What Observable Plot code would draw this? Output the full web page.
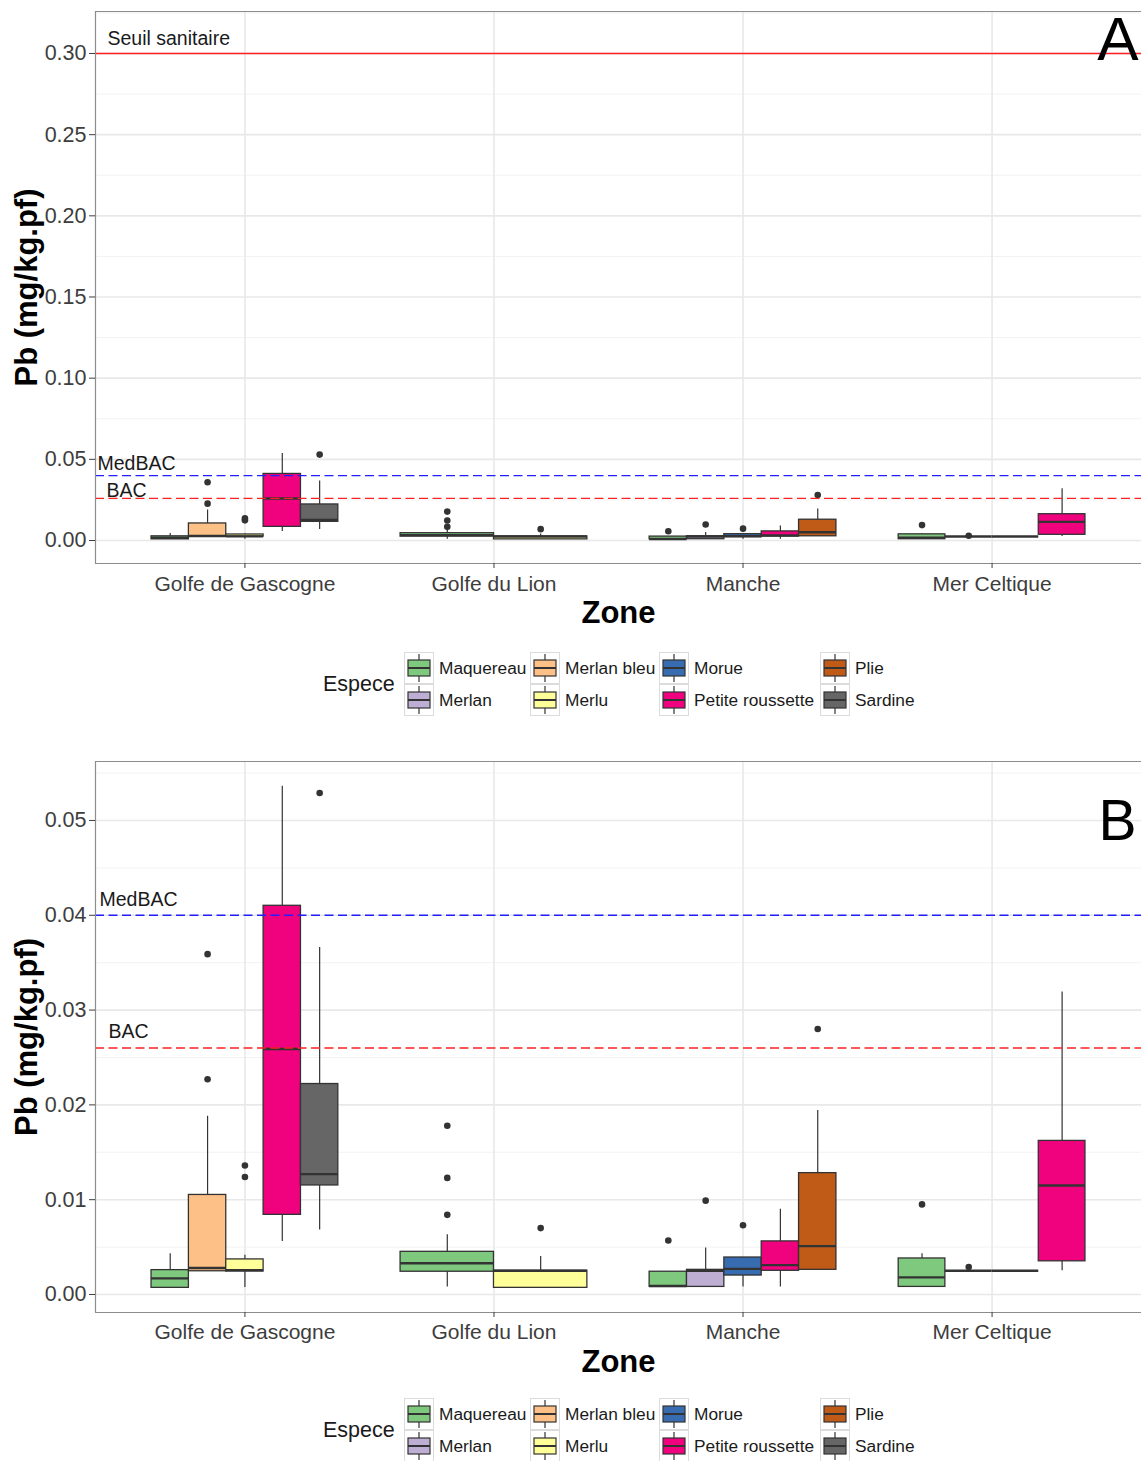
<!DOCTYPE html>
<html>
<head>
<meta charset="utf-8">
<script src="https://cdn.jsdelivr.net/npm/d3@7"></script>
<script src="https://cdn.jsdelivr.net/npm/@observablehq/plot@0.6"></script>
<style>
  html, body { margin: 0; padding: 0; background: #fff; overflow: hidden; }
  body { width: 1141px; font-family: "Liberation Sans", Arial, sans-serif; }
  svg { display: block; }
  .legend { position: relative; width: 1141px; }
  .legend .inner { position: absolute; left: 323px; display: flex; align-items: center; }
  .legend .ltitle { font-size: 21.5px; color: #1a1a1a; width: 81px; }
  .legend .lgrid { display: grid; grid-template-rows: 32px 32px; grid-template-columns: 126px 129px 161px auto; grid-auto-flow: column; }
  .legend .item { display: flex; align-items: center; }
  .legend .item span { font-size: 17.3px; color: #1a1a1a; margin-left: 5px; white-space: nowrap; }
</style>
</head>
<body>
<div id="chart"></div>
<script>
// ---------------- data ----------------
const zones = ["Golfe de Gascogne", "Golfe du Lion", "Manche", "Mer Celtique"];
const species = ["Maquereau", "Merlan", "Merlan bleu", "Merlu", "Morue", "Petite roussette", "Plie", "Sardine"];
const speciesColors = ["#7FC97F", "#BEAED4", "#FDC086", "#FFFF99", "#386CB0", "#F0027F", "#BF5B17", "#666666"];

const boxZone = [
  "Golfe de Gascogne", "Golfe de Gascogne", "Golfe de Gascogne", "Golfe de Gascogne", "Golfe de Gascogne",
  "Golfe du Lion", "Golfe du Lion",
  "Manche", "Manche", "Manche", "Manche", "Manche",
  "Mer Celtique", "Mer Celtique", "Mer Celtique", "Mer Celtique"
];
const boxSpecies = [
  "Maquereau", "Merlan bleu", "Merlu", "Petite roussette", "Sardine",
  "Maquereau", "Merlu",
  "Maquereau", "Merlan", "Morue", "Petite roussette", "Plie",
  "Maquereau", "Merlan", "Merlu", "Petite roussette"
];
const boxLow    = [0.0007, 0.00245, 0.00075, 0.0056, 0.0068, 0.0008, 0.0007, 0.0008, 0.0008, 0.0008, 0.0008, 0.0026, 0.0008, 0.0025, 0.0025, 0.0025];
const boxQ1     = [0.0007, 0.00245, 0.00242, 0.0084, 0.0115, 0.0024, 0.0007, 0.0008, 0.0008, 0.0020, 0.0025, 0.0026, 0.0008, 0.0025, 0.0025, 0.0035];
const boxMedian = [0.0017, 0.0028,  0.00257, 0.0259, 0.0127, 0.0033, 0.0025, 0.0009, 0.0025, 0.0027, 0.0031, 0.0051, 0.0018, 0.0025, 0.0025, 0.0115];
const boxQ3     = [0.00257, 0.0105, 0.0037, 0.0410, 0.0222, 0.0045, 0.0025, 0.0024, 0.0026, 0.0039, 0.0056, 0.0128, 0.0038, 0.0025, 0.0025, 0.0162];
const boxHigh   = [0.0043, 0.0188,  0.00415, 0.0536, 0.0366, 0.0063, 0.0040, 0.0024, 0.0049, 0.0039, 0.0090, 0.0194, 0.0043, 0.0025, 0.0025, 0.0319];

const outlierZone = [
  "Golfe de Gascogne", "Golfe de Gascogne", "Golfe de Gascogne", "Golfe de Gascogne", "Golfe de Gascogne",
  "Golfe du Lion", "Golfe du Lion", "Golfe du Lion", "Golfe du Lion",
  "Manche", "Manche", "Manche", "Manche",
  "Mer Celtique", "Mer Celtique"
];
const outlierSpecies = [
  "Merlan bleu", "Merlan bleu", "Merlu", "Merlu", "Sardine",
  "Maquereau", "Maquereau", "Maquereau", "Merlu",
  "Maquereau", "Merlan", "Morue", "Plie",
  "Maquereau", "Merlan"
];
const outlierValue = [
  0.0359, 0.0227, 0.0136, 0.0124, 0.0529,
  0.0178, 0.0123, 0.0084, 0.0070,
  0.0057, 0.0099, 0.0073, 0.0280,
  0.0095, 0.0029
];

const thresholdLabels = ["Seuil sanitaire", "MedBAC", "BAC"];
const thresholdValues = [0.30, 0.04, 0.026];

const yTicksA = [0, 0.05, 0.10, 0.15, 0.20, 0.25, 0.30];
const yTicksB = [0, 0.01, 0.02, 0.03, 0.04, 0.05];
const yTitle = "Pb (mg/kg.pf)";
const xTitle = "Zone";
const legendTitle = "Espece";

// ---------------- build tables ----------------
const zoneIndex = new Map(zones.map((z, i) => [z, i]));
const boxes = boxZone.map((z, i) => ({
  zone: z, sp: boxSpecies[i], lo: boxLow[i], q1: boxQ1[i], med: boxMedian[i], q3: boxQ3[i], hi: boxHigh[i]
}));
const DODGE = 0.75;
for (const z of zones) {
  const grp = boxes.filter(b => b.zone === z);
  const n = grp.length, w = DODGE / n;
  grp.forEach((b, j) => {
    b.xc = zoneIndex.get(z) + (j - (n - 1) / 2) * w;
    b.xl = b.xc - w / 2;
    b.xr = b.xc + w / 2;
  });
}
const boxByKey = new Map(boxes.map(b => [b.zone + "|" + b.sp, b]));
const outliers = outlierZone.map((z, i) => ({
  sp: outlierSpecies[i], v: outlierValue[i], xc: boxByKey.get(z + "|" + outlierSpecies[i]).xc
}));
const thresholds = thresholdLabels.map((l, i) => ({label: l, v: thresholdValues[i]}));

const FONT = '"Liberation Sans", Arial, sans-serif';
const INK = "#333333";

function panel(cfg) {
  const [y0, y1] = cfg.yDomain;
  const inDomain = thresholds.filter(t => t.v >= y0 && t.v <= y1);
  const labelMarks = inDomain.map(t => {
    const [dx, dy] = cfg.labelOffsets[t.label];
    return Plot.text([t], {y: "v", text: "label", frameAnchor: "left", textAnchor: "start", lineAnchor: "bottom",
      dx, dy, fontSize: 19.5, fill: "#1a1a1a"});
  });
  return Plot.plot({
    width: 1141, height: cfg.height,
    marginLeft: 95, marginRight: 0, marginTop: cfg.marginTop, marginBottom: 67,
    x: {domain: [-0.6, 3.6], axis: null},
    y: {domain: cfg.yDomain, axis: null},
    color: {domain: species, range: speciesColors},
    style: {fontFamily: FONT, background: "white", overflow: "visible"},
    marks: [
      Plot.gridY(cfg.minor, {stroke: "#f2f2f2", strokeOpacity: 1, strokeWidth: 1}),
      Plot.gridY(cfg.yTicks, {stroke: "#e8e8e8", strokeOpacity: 1, strokeWidth: 1.6}),
      Plot.gridX([0, 1, 2, 3], {stroke: "#e8e8e8", strokeOpacity: 1, strokeWidth: 1.6}),
      // whiskers
      Plot.ruleX(boxes, {x: "xc", y1: "q3", y2: "hi", stroke: INK, strokeWidth: 1.2}),
      Plot.ruleX(boxes, {x: "xc", y1: "lo", y2: "q1", stroke: INK, strokeWidth: 1.2}),
      // boxes
      Plot.rect(boxes, {x1: "xl", x2: "xr", y1: "q1", y2: "q3", fill: "sp", stroke: INK, strokeWidth: 1.3}),
      // medians
      Plot.ruleY(boxes, {y: "med", x1: "xl", x2: "xr", stroke: INK, strokeWidth: 2.4}),
      // outliers
      Plot.dot(outliers, {x: "xc", y: "v", r: 3.3, fill: INK, stroke: null}),
      // threshold lines
      Plot.ruleY(inDomain.filter(t => t.label === "Seuil sanitaire"), {y: "v", stroke: "#ff2020", strokeWidth: 1.3}),
      Plot.ruleY(inDomain.filter(t => t.label === "MedBAC"), {y: "v", stroke: "#2020ff", strokeWidth: 1.3, strokeDasharray: "9,4.5"}),
      Plot.ruleY(inDomain.filter(t => t.label === "BAC"), {y: "v", stroke: "#ff2020", strokeWidth: 1.3, strokeDasharray: "9,4.5"}),
      ...labelMarks,
      // panel letter
      Plot.text([cfg.letter], {text: d => d, frameAnchor: "top-right", textAnchor: "end", lineAnchor: "top",
        dx: cfg.letterDx, dy: cfg.letterDy, fontSize: cfg.letterSize, fill: "black"}),
      // border (left, top, bottom)
      Plot.ruleX([-0.6], {stroke: "#8c8c8c", strokeWidth: 1.2}),
      Plot.ruleY([y0, y1], {stroke: "#8c8c8c", strokeWidth: 1.2}),
      // axes
      Plot.axisY(cfg.yTicks, {anchor: "left", tickFormat: d3.format(".2f"), tickSize: 6, tickPadding: 3,
        fontSize: 21.5, color: "#3d3d3d", label: null}),
      Plot.axisX([0, 1, 2, 3], {anchor: "bottom", tickFormat: d => zones[d], tickSize: 5, tickPadding: cfg.xPad,
        fontSize: 21, color: "#3d3d3d", label: null}),
      // axis titles
      Plot.text([xTitle], {text: d => d, frameAnchor: "bottom", dy: 50, lineAnchor: "middle",
        fontSize: 31, fontWeight: "bold", fill: "black"}),
      Plot.text([yTitle], {text: d => d, frameAnchor: "left", dx: -68, rotate: -90, lineAnchor: "middle",
        textAnchor: "middle", fontSize: 31, fontWeight: "bold", fill: "black"})
    ]
  });
}

function legend(paddingTop, height) {
  const wrap = document.createElement("div");
  wrap.className = "legend";
  wrap.style.height = height + "px";
  const inner = document.createElement("div");
  inner.className = "inner";
  inner.style.top = paddingTop + "px";
  const title = document.createElement("div");
  title.className = "ltitle";
  title.textContent = legendTitle;
  inner.appendChild(title);
  const grid = document.createElement("div");
  grid.className = "lgrid";
  species.forEach((s, i) => {
    const item = document.createElement("div");
    item.className = "item";
    item.innerHTML =
      `<svg width="30" height="32" viewBox="0 0 30 32">
        <rect x="0.5" y="0.5" width="29" height="31" fill="white" stroke="#dcdcdc"/>
        <line x1="15" x2="15" y1="2" y2="30" stroke="${INK}" stroke-width="1.2"/>
        <rect x="4" y="8" width="22" height="16" fill="${speciesColors[i]}" stroke="${INK}" stroke-width="1.2"/>
        <line x1="4" x2="26" y1="16" y2="16" stroke="${INK}" stroke-width="2"/>
      </svg><span>${s}</span>`;
    grid.appendChild(item);
  });
  inner.appendChild(grid);
  wrap.appendChild(inner);
  return wrap;
}

const chart = document.getElementById("chart");
chart.appendChild(panel({
  height: 630, marginTop: 11,
  yDomain: [-0.01417, 0.32587],
  yTicks: yTicksA,
  minor: d3.range(0.025, 0.33, 0.05),
  xPad: 8,
  letter: "A", letterDx: -3, letterDy: 4, letterSize: 62,
  labelOffsets: {"Seuil sanitaire": [12, -8], "MedBAC": [2, -6], "BAC": [11, -1.5]}
}));
chart.appendChild(legend(22, 100));
chart.appendChild(panel({
  height: 649, marginTop: 31,
  yDomain: [-0.0019, 0.05622],
  yTicks: yTicksB,
  minor: d3.range(0.005, 0.056, 0.01),
  xPad: 7,
  letter: "B", letterDx: -5, letterDy: 38, letterSize: 57,
  labelOffsets: {"MedBAC": [4, -9.5], "BAC": [13, -9.5]}
}));
chart.appendChild(legend(19, 82));
</script>
</body>
</html>
